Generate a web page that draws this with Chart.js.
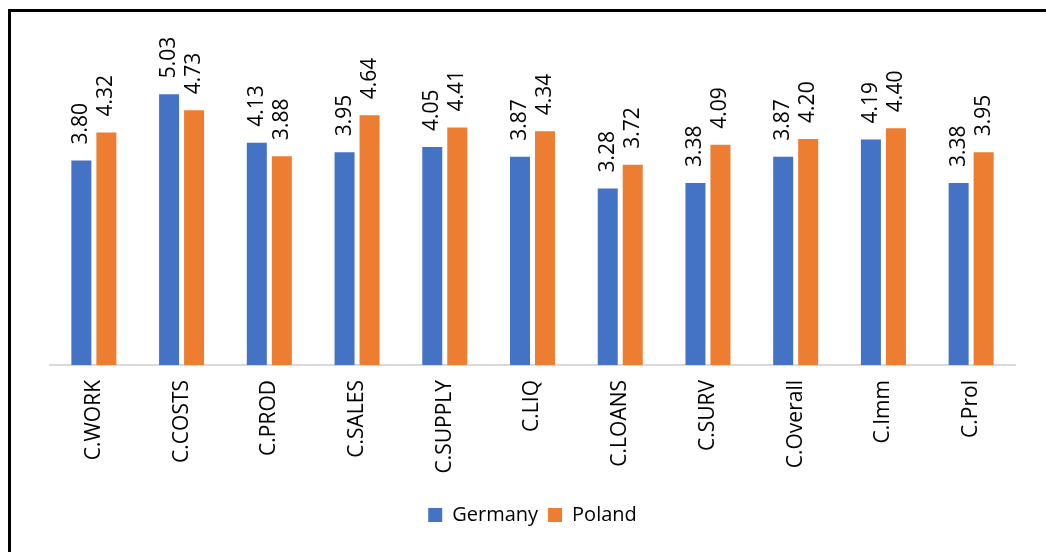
<!DOCTYPE html>
<html>
<head>
<meta charset="utf-8">
<script src="https://cdn.jsdelivr.net/npm/chart.js@4/dist/chart.umd.min.js"></script>
<style>
  html, body { margin: 0; padding: 0; background: #fff; overflow: hidden; }
  #wrap { position: absolute; left: 0; top: 0; width: 1046px; height: 552px; }
  #frame { position: absolute; left: 8px; top: 9px; width: 1100px; height: 600px;
           border-left: 3px solid #000; border-top: 3px solid #000; pointer-events: none; }
</style>
</head>
<body>
<div id="wrap"><canvas id="c"></canvas></div>
<div id="frame"></div>
<script>
const categories = ["C.WORK", "C.COSTS", "C.PROD", "C.SALES", "C.SUPPLY", "C.LIQ", "C.LOANS", "C.SURV", "C.Overall", "C.Imm", "C.Prol"];
const germany = [3.80, 5.03, 4.13, 3.95, 4.05, 3.87, 3.28, 3.38, 3.87, 4.19, 3.38];
const poland  = [4.32, 4.73, 3.88, 4.64, 4.41, 4.34, 3.72, 4.09, 4.20, 4.40, 3.95];
const seriesNames = ["Germany", "Poland"];

const FONT = "'Open Sans', 'Noto Sans', sans-serif";

const valueLabels = {
  id: "valueLabels",
  afterDatasetsDraw(chart) {
    const ctx = chart.ctx;
    ctx.save();
    ctx.font = "21px " + FONT;
    ctx.fillStyle = "#000";
    ctx.textAlign = "left";
    ctx.textBaseline = "middle";
    chart.data.datasets.forEach((ds, di) => {
      const meta = chart.getDatasetMeta(di);
      meta.data.forEach((el, i) => {
        ctx.save();
        ctx.translate(el.x, el.y - 16);
        ctx.rotate(-Math.PI / 2);
        ctx.fillText(ds.data[i].toFixed(2), 0, 0);
        ctx.restore();
      });
    });
    ctx.restore();
  }
};

new Chart(document.getElementById("c"), {
  type: "bar",
  data: {
    labels: categories,
    datasets: [
      { label: seriesNames[0], data: germany, backgroundColor: "#4472C4", categoryPercentage: 0.57, barPercentage: 0.8 },
      { label: seriesNames[1], data: poland,  backgroundColor: "#ED7D31", categoryPercentage: 0.57, barPercentage: 0.8 }
    ]
  },
  options: {
    responsive: true,
    maintainAspectRatio: false,
    animation: false,
    layout: { padding: { left: 50, right: 31, top: 42, bottom: 17 } },
    plugins: {
      legend: {
        position: "bottom",
        labels: { font: { family: FONT, size: 20 }, color: "#000", boxWidth: 14, boxHeight: 14, padding: 10 }
      },
      tooltip: { enabled: false }
    },
    scales: {
      x: {
        grid: { display: false, drawTicks: false },
        border: { display: true, color: "#D9D9D9", width: 2 },
        ticks: { font: { family: FONT, size: 21 }, color: "#000", maxRotation: 90, minRotation: 90, autoSkip: false, padding: 15 },
        afterFit(scale) { scale.height = 130; }
      },
      y: {
        display: false,
        min: 0,
        max: 6
      }
    }
  },
  plugins: [valueLabels]
});
</script>
</body>
</html>
